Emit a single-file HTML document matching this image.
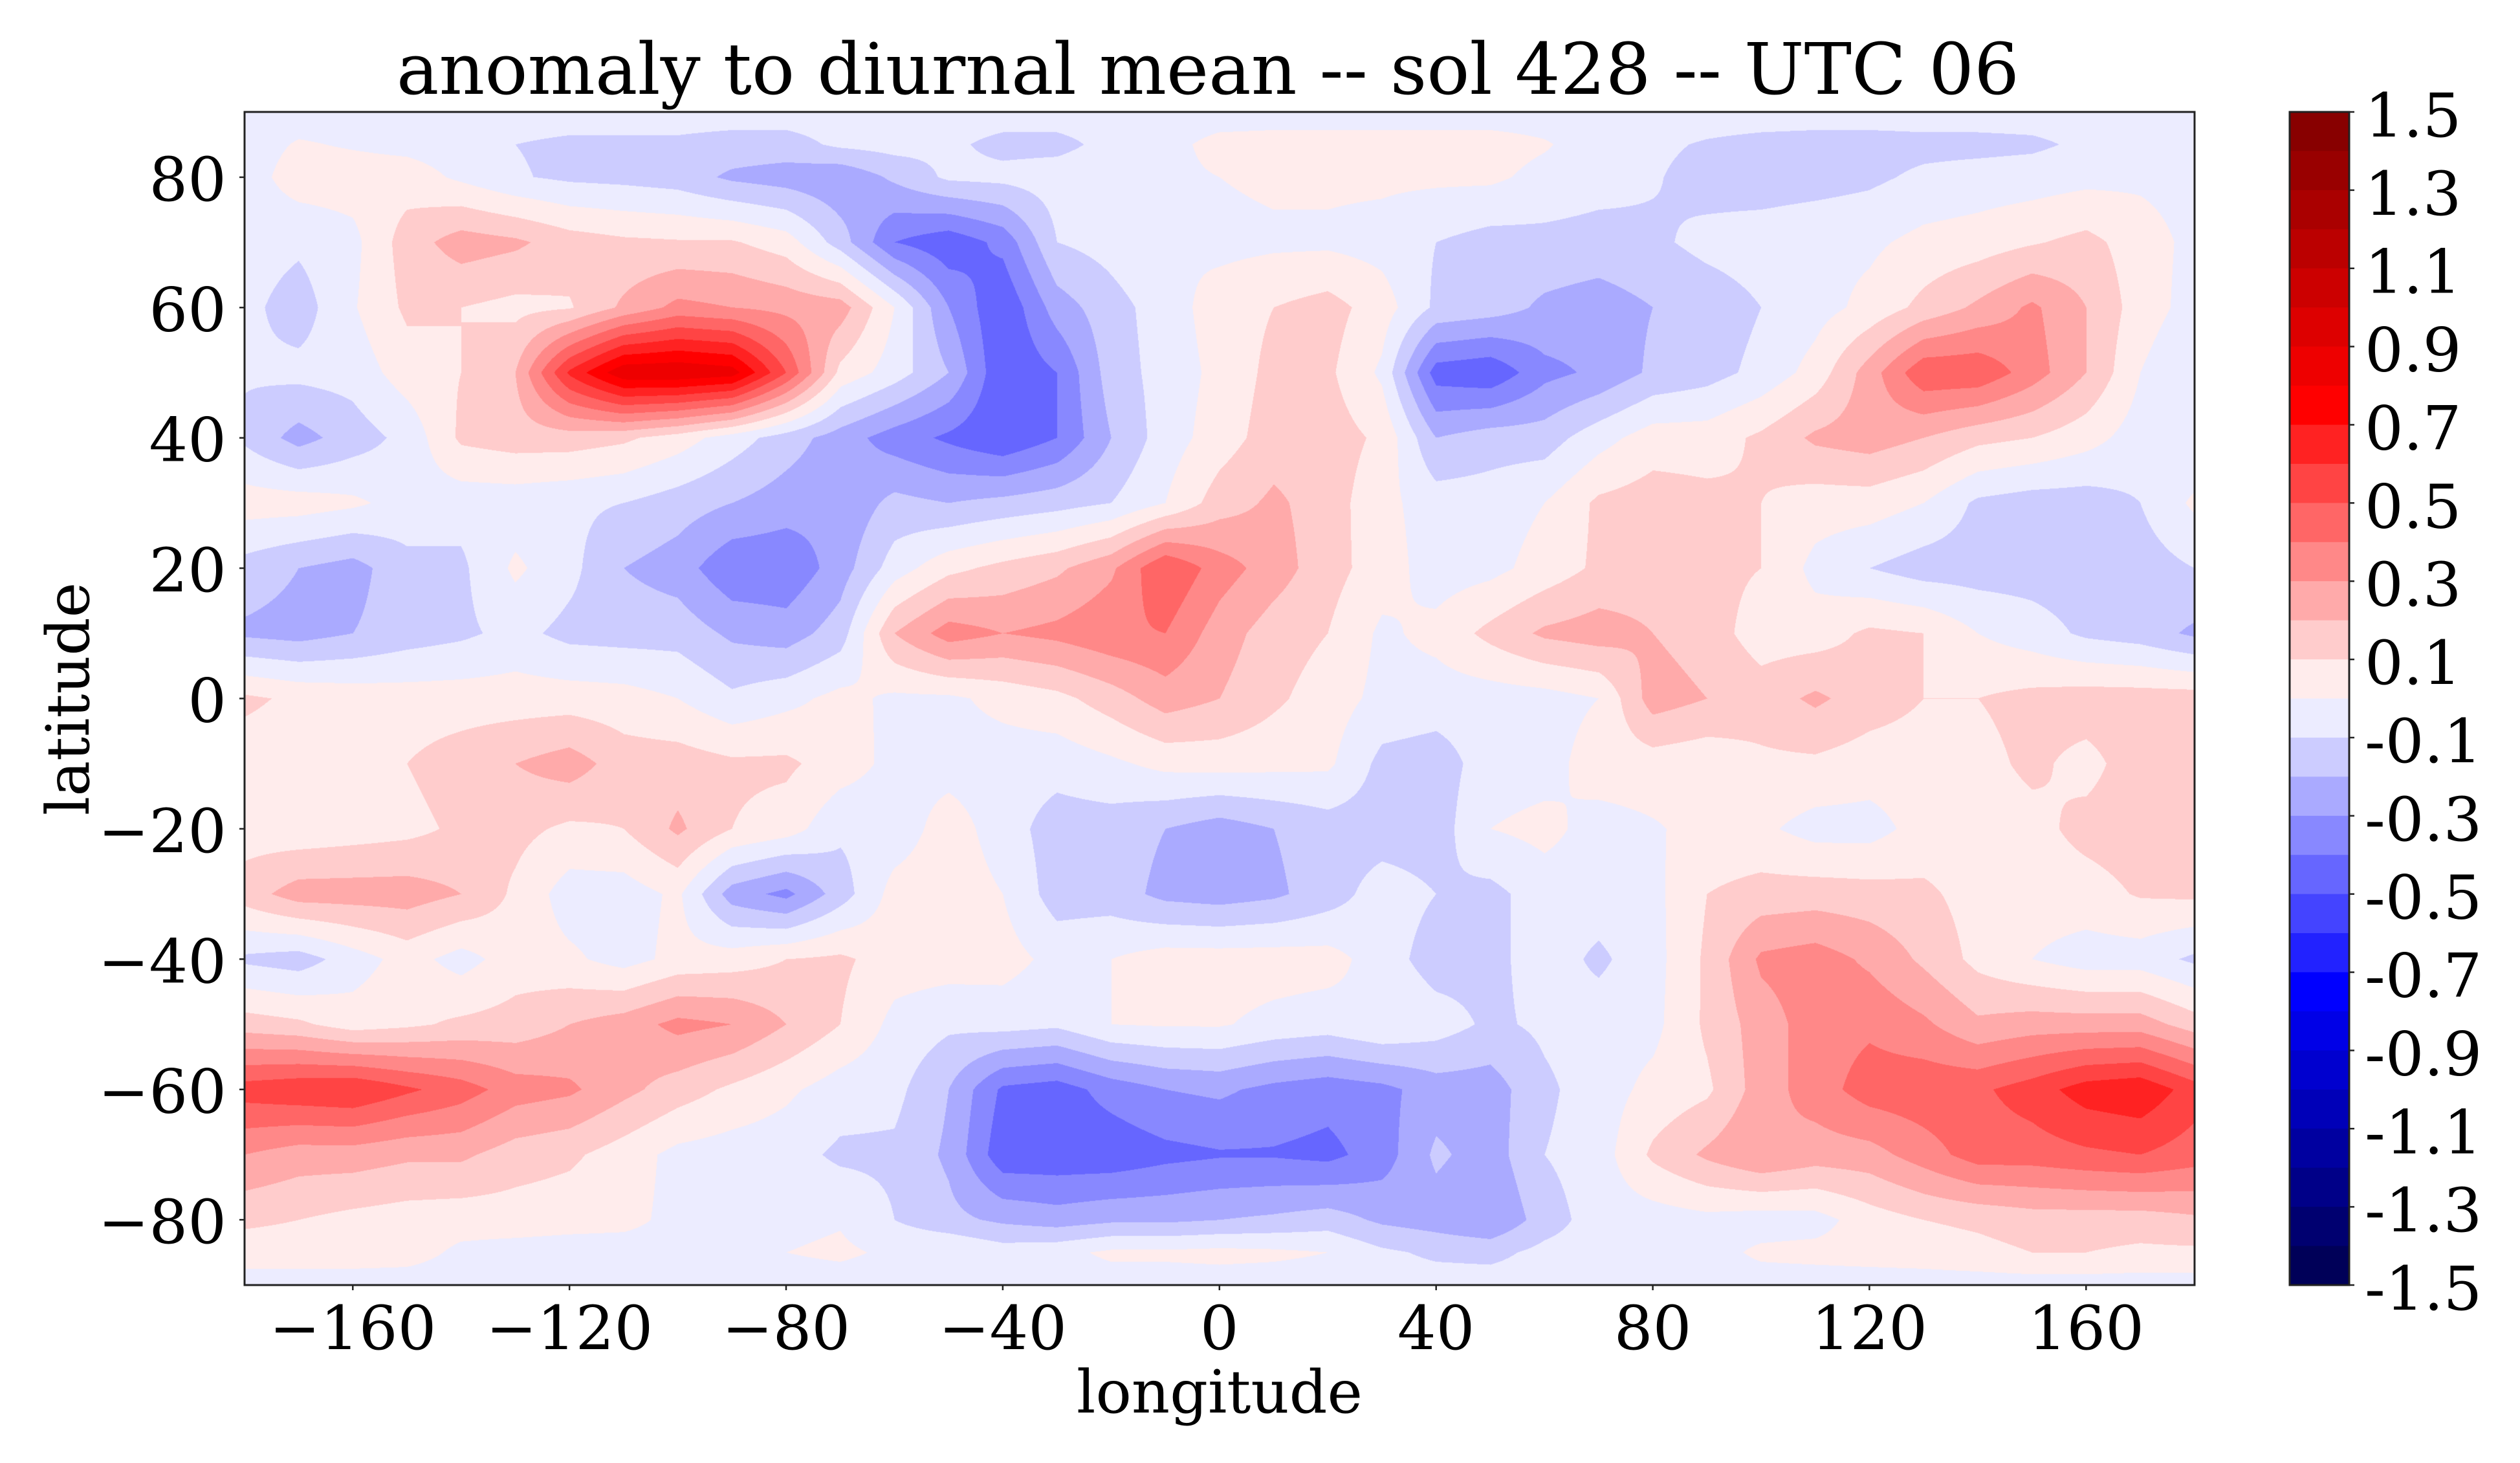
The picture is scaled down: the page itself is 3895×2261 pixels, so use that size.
<!DOCTYPE html>
<html><head><meta charset="utf-8">
<style>
html,body{margin:0;padding:0;background:#fff;}
body{width:3895px;height:2261px;position:relative;overflow:hidden;}
#c{position:absolute;left:378px;top:173px;display:block;}
#s{position:absolute;left:0;top:0;}
</style></head><body>
<canvas id="c" width="3014" height="1813"></canvas>
<svg id="s" width="3895" height="2261" xmlns="http://www.w3.org/2000/svg" font-family="'DejaVu Serif','Liberation Serif',serif">
<!-- colorbar -->
<g>
<rect x="3539" y="173.00" width="92" height="61.43" fill="rgb(136,0,0)"/>
<rect x="3539" y="233.43" width="92" height="61.43" fill="rgb(153,0,0)"/>
<rect x="3539" y="293.87" width="92" height="61.43" fill="rgb(170,0,0)"/>
<rect x="3539" y="354.30" width="92" height="61.43" fill="rgb(187,0,0)"/>
<rect x="3539" y="414.73" width="92" height="61.43" fill="rgb(204,0,0)"/>
<rect x="3539" y="475.17" width="92" height="61.43" fill="rgb(221,0,0)"/>
<rect x="3539" y="535.60" width="92" height="61.43" fill="rgb(238,0,0)"/>
<rect x="3539" y="596.03" width="92" height="61.43" fill="rgb(255,0,0)"/>
<rect x="3539" y="656.47" width="92" height="61.43" fill="rgb(255,34,34)"/>
<rect x="3539" y="716.90" width="92" height="61.43" fill="rgb(255,68,68)"/>
<rect x="3539" y="777.33" width="92" height="61.43" fill="rgb(255,102,102)"/>
<rect x="3539" y="837.77" width="92" height="61.43" fill="rgb(255,136,136)"/>
<rect x="3539" y="898.20" width="92" height="61.43" fill="rgb(255,170,170)"/>
<rect x="3539" y="958.63" width="92" height="61.43" fill="rgb(255,204,204)"/>
<rect x="3539" y="1019.07" width="92" height="61.43" fill="rgb(255,236,236)"/>
<rect x="3539" y="1079.50" width="92" height="61.43" fill="rgb(236,236,255)"/>
<rect x="3539" y="1139.93" width="92" height="61.43" fill="rgb(204,204,255)"/>
<rect x="3539" y="1200.37" width="92" height="61.43" fill="rgb(170,170,255)"/>
<rect x="3539" y="1260.80" width="92" height="61.43" fill="rgb(136,136,255)"/>
<rect x="3539" y="1321.23" width="92" height="61.43" fill="rgb(102,102,255)"/>
<rect x="3539" y="1381.67" width="92" height="61.43" fill="rgb(68,68,255)"/>
<rect x="3539" y="1442.10" width="92" height="61.43" fill="rgb(34,34,255)"/>
<rect x="3539" y="1502.53" width="92" height="61.43" fill="rgb(0,0,255)"/>
<rect x="3539" y="1562.97" width="92" height="61.43" fill="rgb(0,0,231)"/>
<rect x="3539" y="1623.40" width="92" height="61.43" fill="rgb(0,0,207)"/>
<rect x="3539" y="1683.83" width="92" height="61.43" fill="rgb(0,0,184)"/>
<rect x="3539" y="1744.27" width="92" height="61.43" fill="rgb(0,0,160)"/>
<rect x="3539" y="1804.70" width="92" height="61.43" fill="rgb(0,0,136)"/>
<rect x="3539" y="1865.13" width="92" height="61.43" fill="rgb(0,0,112)"/>
<rect x="3539" y="1925.57" width="92" height="60.43" fill="rgb(0,0,88)"/>
</g>
<rect x="3539" y="173" width="92" height="1813" fill="none" stroke="#222" stroke-width="3"/>
<g stroke="#222" stroke-width="2.5">
<line x1="3631" y1="173" x2="3639" y2="173"/>
<line x1="3631" y1="293.87" x2="3639" y2="293.87"/>
<line x1="3631" y1="414.73" x2="3639" y2="414.73"/>
<line x1="3631" y1="535.6" x2="3639" y2="535.6"/>
<line x1="3631" y1="656.47" x2="3639" y2="656.47"/>
<line x1="3631" y1="777.33" x2="3639" y2="777.33"/>
<line x1="3631" y1="898.2" x2="3639" y2="898.2"/>
<line x1="3631" y1="1019.07" x2="3639" y2="1019.07"/>
<line x1="3631" y1="1139.93" x2="3639" y2="1139.93"/>
<line x1="3631" y1="1260.8" x2="3639" y2="1260.8"/>
<line x1="3631" y1="1381.67" x2="3639" y2="1381.67"/>
<line x1="3631" y1="1502.53" x2="3639" y2="1502.53"/>
<line x1="3631" y1="1623.4" x2="3639" y2="1623.4"/>
<line x1="3631" y1="1744.27" x2="3639" y2="1744.27"/>
<line x1="3631" y1="1865.13" x2="3639" y2="1865.13"/>
<line x1="3631" y1="1986" x2="3639" y2="1986"/>
</g>
<g font-size="94" fill="#000">
<text x="3655" y="211">1.5</text>
<text x="3655" y="331.9">1.3</text>
<text x="3655" y="452.7">1.1</text>
<text x="3655" y="573.6">0.9</text>
<text x="3655" y="694.5">0.7</text>
<text x="3655" y="815.3">0.5</text>
<text x="3655" y="936.2">0.3</text>
<text x="3655" y="1057.1">0.1</text>
<text x="3655" y="1177.9">-0.1</text>
<text x="3655" y="1298.8">-0.3</text>
<text x="3655" y="1419.7">-0.5</text>
<text x="3655" y="1540.5">-0.7</text>
<text x="3655" y="1661.4">-0.9</text>
<text x="3655" y="1782.3">-1.1</text>
<text x="3655" y="1903.1">-1.3</text>
<text x="3655" y="2024">-1.5</text>
</g>
<!-- axes frame -->
<rect x="378" y="173" width="3014" height="1813" fill="none" stroke="#222" stroke-width="3"/>
<g stroke="#222" stroke-width="2.5">
<line x1="545.3" y1="1986" x2="545.3" y2="1994"/>
<line x1="880.2" y1="1986" x2="880.2" y2="1994"/>
<line x1="1215" y1="1986" x2="1215" y2="1994"/>
<line x1="1549.9" y1="1986" x2="1549.9" y2="1994"/>
<line x1="1884.8" y1="1986" x2="1884.8" y2="1994"/>
<line x1="2219.7" y1="1986" x2="2219.7" y2="1994"/>
<line x1="2554.6" y1="1986" x2="2554.6" y2="1994"/>
<line x1="2889.4" y1="1986" x2="2889.4" y2="1994"/>
<line x1="3224.3" y1="1986" x2="3224.3" y2="1994"/>
<line x1="370" y1="273.9" x2="378" y2="273.9"/>
<line x1="370" y1="475.3" x2="378" y2="475.3"/>
<line x1="370" y1="676.7" x2="378" y2="676.7"/>
<line x1="370" y1="878.1" x2="378" y2="878.1"/>
<line x1="370" y1="1079.5" x2="378" y2="1079.5"/>
<line x1="370" y1="1280.9" x2="378" y2="1280.9"/>
<line x1="370" y1="1482.3" x2="378" y2="1482.3"/>
<line x1="370" y1="1683.7" x2="378" y2="1683.7"/>
<line x1="370" y1="1885.1" x2="378" y2="1885.1"/>
</g>
<g font-size="94" fill="#000" text-anchor="middle">
<text x="545.3" y="2085">−160</text>
<text x="880.2" y="2085">−120</text>
<text x="1215" y="2085">−80</text>
<text x="1549.9" y="2085">−40</text>
<text x="1884.8" y="2085">0</text>
<text x="2219.7" y="2085">40</text>
<text x="2554.6" y="2085">80</text>
<text x="2889.4" y="2085">120</text>
<text x="3224.3" y="2085">160</text>
</g>
<g font-size="94" fill="#000" text-anchor="end">
<text x="350" y="309.9">80</text>
<text x="350" y="511.3">60</text>
<text x="350" y="712.7">40</text>
<text x="350" y="914.1">20</text>
<text x="350" y="1115.5">0</text>
<text x="350" y="1316.9">−20</text>
<text x="350" y="1518.3">−40</text>
<text x="350" y="1719.7">−60</text>
<text x="350" y="1921.1">−80</text>
</g>
<text x="1885" y="2183" font-size="92" text-anchor="middle" fill="#000">longitude</text>
<text transform="translate(137,1080) rotate(-90)" font-size="92" text-anchor="middle" fill="#000">latitude</text>
<text x="1867" y="145" font-size="110" text-anchor="middle" fill="#000">anomaly to diurnal mean -- sol 428 -- UTC 06</text>
</svg>
<script>
(function(){
var lats=[90,85,80,70,60,50,40,30,20,10,0,-10,-20,-30,-40,-50,-60,-70,-80,-85,-90];
var R90=[];for(var q=0;q<37;q++)R90.push(-0.05);
var G=[
R90,
[-0.05,0.01,-0.01,-0.03,-0.05,-0.1,-0.12,-0.12,-0.12,-0.14,-0.14,-0.08,-0.06, -0.08,-0.13,-0.13,-0.07,-0.03,0.03,0.04,0.04,0.04,0.04,0.04,0.01, -0.05,-0.08,-0.11,-0.13,-0.14,-0.14,-0.13,-0.13,-0.12,-0.08,-0.06,-0.05],
[-0.05,0.05,0.05,0.05,-0.02,-0.09,-0.12,-0.13,-0.15,-0.22,-0.25,-0.28,-0.18, -0.08,-0.07,-0.05,-0.03,-0.02,0.0,0.02,0.02,0.02,0.02,0.02,-0.03, -0.06,-0.09,-0.14,-0.15,-0.14,-0.12,-0.08,-0.06,-0.05,-0.03,-0.02,-0.04],
[-0.05,-0.08,-0.03,0.15,0.25,0.22,0.15,0.12,0.11,0.11,0.05,-0.15,-0.4, -0.47,-0.37,-0.1,-0.06,0.0,-0.03,-0.02,-0.02,-0.04,-0.1,-0.14,-0.13, -0.14,-0.12,-0.07,-0.05,-0.03,-0.02,0.03,0.05,0.09,0.13,0.05,-0.03],
[-0.07,-0.15,-0.01,0.12,0.1,0.07,0.09,0.22,0.33,0.3,0.27,0.25,0.0, -0.3,-0.49,-0.25,-0.14,-0.05,0.05,0.1,0.14,0.05,-0.12,-0.15,-0.22, -0.25,-0.2,-0.16,-0.1,-0.04,0.03,0.13,0.22,0.32,0.2,0.05,-0.04],
[-0.09,-0.07,-0.06,0.05,0.1,0.2,0.62,0.88,0.89,0.85,0.5,0.07,-0.05, -0.2,-0.49,-0.4,-0.15,-0.06,0.03,0.13,0.12,-0.02,-0.45,-0.48,-0.33, -0.28,-0.18,-0.14,-0.07,0.04,0.25,0.48,0.48,0.35,0.2,0.0,-0.1],
[-0.12,-0.24,-0.15,-0.07,0.12,0.15,0.15,0.12,0.05,-0.05,-0.15,-0.25,-0.35, -0.42,-0.49,-0.4,-0.2,-0.05,0.05,0.15,0.15,0.08,-0.2,-0.15,-0.15, -0.04,0.05,0.05,0.12,0.22,0.25,0.2,0.13,0.1,0.04,-0.05,-0.1],
[0.05,0.05,0.02,-0.04,-0.06,-0.06,-0.08,-0.1,-0.15,-0.2,-0.25,-0.28,-0.17, -0.2,-0.17,-0.14,-0.1,0.0,0.15,0.22,0.15,0.03,-0.05,-0.05,0.0, 0.12,0.15,0.13,0.1,0.05,0.05,0.0,-0.12,-0.15,-0.15,-0.1,0.02],
[-0.14,-0.2,-0.24,-0.13,-0.12,0.02,-0.07,-0.2,-0.25,-0.38,-0.38,-0.25,-0.05, 0.07,0.13,0.18,0.28,0.5,0.35,0.25,0.14,0.05,-0.05,-0.03,0.04, 0.12,0.15,0.13,0.1,-0.03,-0.1,-0.15,-0.15,-0.15,-0.16,-0.15,-0.1],
[-0.22,-0.24,-0.2,-0.15,-0.12,-0.07,-0.13,-0.14,-0.14,-0.22,-0.25,-0.15,0.2, 0.35,0.3,0.33,0.38,0.4,0.25,0.15,0.1,-0.02,0.03,0.13,0.22, 0.25,0.2,0.15,0.05,0.05,0.12,0.1,0.0,-0.05,-0.12,-0.15,-0.22],
[0.12,0.08,0.06,0.05,0.05,0.05,0.05,0.04,0.0,-0.08,-0.03,0.03,-0.02, -0.02,0.03,0.07,0.15,0.25,0.2,0.12,0.05,-0.03,-0.05,-0.05,-0.04, 0.0,0.25,0.2,0.15,0.22,0.15,0.1,0.1,0.13,0.15,0.15,0.15],
[0.05,0.04,0.03,0.1,0.15,0.2,0.25,0.15,0.15,0.12,0.12,0.05,-0.03, -0.04,-0.05,-0.06,-0.02,0.03,0.04,0.03,0.02,-0.13,-0.15,-0.05,-0.04, 0.05,0.05,0.03,0.08,0.08,0.05,0.05,0.07,0.12,0.07,0.15,0.15],
[0.05,0.03,0.05,0.07,0.12,0.13,0.08,0.1,0.22,0.1,0.05,-0.08,-0.06, 0.05,-0.05,-0.15,-0.15,-0.2,-0.25,-0.2,-0.15,-0.15,-0.15,0.0,0.03, -0.04,-0.01,0.03,0.02,-0.04,-0.04,0.04,0.05,0.07,0.13,0.15,0.15],
[0.15,0.25,0.25,0.25,0.2,0.08,-0.05,-0.05,0.02,-0.25,-0.33,-0.15,0.04, 0.06,0.0,-0.15,-0.15,-0.23,-0.25,-0.22,-0.15,-0.05,-0.1,-0.13,-0.05, -0.05,-0.03,0.1,0.14,0.15,0.14,0.12,0.06,0.05,0.06,0.11,0.12],
[-0.12,-0.15,-0.05,0.04,-0.04,0.05,0.02,-0.04,0.03,0.05,0.1,0.12,0.05, 0.05,0.04,-0.03,0.0,0.05,0.05,0.05,0.04,-0.05,-0.15,-0.13,-0.05, -0.12,-0.04,0.12,0.32,0.35,0.28,0.18,0.07,0.0,-0.05,-0.05,-0.12],
[0.15,0.12,0.05,0.08,0.12,0.14,0.2,0.25,0.33,0.3,0.2,0.1,-0.03, -0.08,-0.06,-0.08,0.0,0.01,0.01,-0.03,-0.05,0.0,-0.05,-0.12,-0.08, -0.05,-0.03,0.12,0.25,0.35,0.38,0.32,0.22,0.25,0.25,0.25,0.15],
[0.55,0.58,0.6,0.52,0.45,0.35,0.32,0.23,0.15,0.08,0.02,-0.05,-0.07, -0.2,-0.42,-0.45,-0.36,-0.3,-0.28,-0.33,-0.36,-0.33,-0.25,-0.25,-0.12, -0.05,0.03,0.08,0.25,0.35,0.45,0.47,0.48,0.55,0.65,0.68,0.55],
[0.3,0.25,0.25,0.22,0.22,0.15,0.12,0.05,-0.03,-0.05,-0.06,-0.12,-0.12, -0.22,-0.47,-0.47,-0.47,-0.43,-0.41,-0.41,-0.43,-0.35,-0.18,-0.25,-0.1, -0.05,0.12,0.22,0.3,0.25,0.26,0.35,0.45,0.45,0.48,0.5,0.45],
[0.12,0.1,0.07,0.05,0.04,0.05,0.04,0.03,-0.03,-0.04,-0.03,-0.01,-0.1, -0.17,-0.22,-0.25,-0.22,-0.22,-0.2,-0.18,-0.15,-0.22,-0.25,-0.3,-0.15, -0.05,-0.05,-0.03,-0.05,-0.04,0.05,0.1,0.12,0.15,0.15,0.15,0.18],
[0.05,0.05,0.05,0.04,-0.02,-0.04,-0.05,-0.05,-0.04,-0.03,0.0,0.02,-0.02, 0.0,-0.05,-0.03,0.02,0.02,0.03,0.02,0.0,-0.08,-0.12,-0.13,-0.07, -0.05,-0.05,-0.04,0.02,0.03,0.04,0.05,0.07,0.1,0.1,0.08,0.08],
R90
];
var cols=[[0,0,88],[0,0,112],[0,0,136],[0,0,160],[0,0,184],[0,0,207],[0,0,231],[0,0,255],[34,34,255],[68,68,255],[102,102,255],[136,136,255],[170,170,255],[204,204,255],[236,236,255],[255,236,236],[255,204,204],[255,170,170],[255,136,136],[255,102,102],[255,68,68],[255,34,34],[255,0,0],[238,0,0],[221,0,0],[204,0,0],[187,0,0],[170,0,0],[153,0,0],[136,0,0]];
var cv=document.getElementById('c');
var W=cv.width,H=cv.height;
var ctx=cv.getContext('2d');
var img=ctx.createImageData(W,H);
var d=img.data;
var ci=new Int32Array(W),cw=new Float32Array(W);
for(var x=0;x<W;x++){var f=(x+0.5)*36/W;var i=Math.floor(f);if(i>35)i=35;ci[x]=i;cw[x]=f-i;}
for(var y=0;y<H;y++){
  var lat=90-(y+0.5)*180/H;
  var r=0;while(r<lats.length-2&&lat<lats[r+1])r++;
  var t=(lats[r]-lat)/(lats[r]-lats[r+1]);
  var A=G[r],B=G[r+1];
  var base=y*W*4;
  for(var x2=0;x2<W;x2++){
    var i2=ci[x2],u=cw[x2];
    var v=(1-t)*((1-u)*A[i2]+u*A[i2+1])+t*((1-u)*B[i2]+u*B[i2+1]);
    var b=Math.floor((v+1.5)*10+1e-9);if(b<0)b=0;if(b>29)b=29;
    var c=cols[b];var k=base+x2*4;
    d[k]=c[0];d[k+1]=c[1];d[k+2]=c[2];d[k+3]=255;
  }
}
ctx.putImageData(img,0,0);
})();
</script>
</body></html>
